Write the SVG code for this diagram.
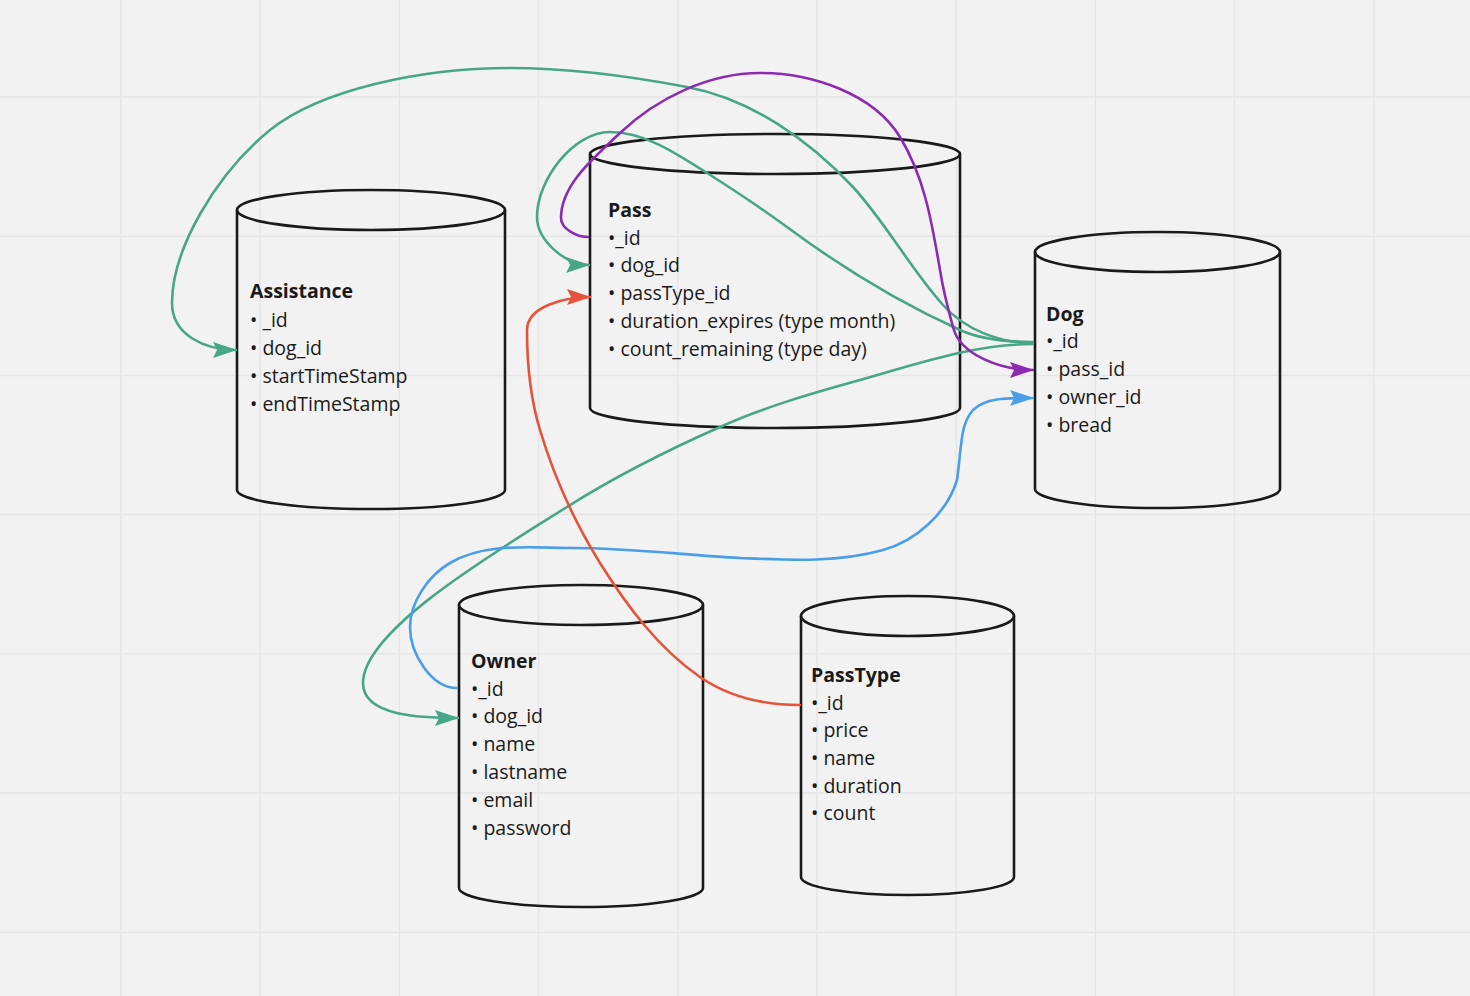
<svg xmlns="http://www.w3.org/2000/svg" width="1470" height="996" viewBox="0 0 1470 996">
<style>
.grid{stroke:#e5e5e5;stroke-width:1.5}
.cyl{fill:none;stroke:#1a1a1a;stroke-width:2.6;stroke-linejoin:round}
.t{font-family:"Open Sans","Noto Sans","Liberation Sans",sans-serif;font-size:19.5px;fill:#1a1a1a}
.h{font-weight:bold}
.c{fill:none;stroke-width:2.6;stroke-linecap:round}
.teal{stroke:#48a688}.purple{stroke:#8c2bb0}.orange{stroke:#e5533a}.blue{stroke:#4a9de8}
</style>
<defs>
<marker id="aTeal" viewBox="0 0 24 16" refX="23" refY="8" markerWidth="24" markerHeight="16" markerUnits="userSpaceOnUse" orient="auto"><path d="M0,0 L24,8 L0,16 L4,8 Z" fill="#48a688"/></marker>
<marker id="aPurple" viewBox="0 0 24 16" refX="23" refY="8" markerWidth="24" markerHeight="16" markerUnits="userSpaceOnUse" orient="auto"><path d="M0,0 L24,8 L0,16 L4,8 Z" fill="#8c2bb0"/></marker>
<marker id="aOrange" viewBox="0 0 24 16" refX="23" refY="8" markerWidth="24" markerHeight="16" markerUnits="userSpaceOnUse" orient="auto"><path d="M0,0 L24,8 L0,16 L4,8 Z" fill="#e5533a"/></marker>
<marker id="aBlue" viewBox="0 0 24 16" refX="23" refY="8" markerWidth="24" markerHeight="16" markerUnits="userSpaceOnUse" orient="auto"><path d="M0,0 L24,8 L0,16 L4,8 Z" fill="#4a9de8"/></marker>
</defs>
<rect width="1470" height="996" fill="#f2f2f2"/>
<g id="grid">
<path class="grid" d="M121,0V996M260.2,0V996M399.4,0V996M538.6,0V996M677.8,0V996M817,0V996M956.2,0V996M1095.4,0V996M1234.6,0V996M1373.8,0V996"/>
<path class="grid" d="M0,97H1470M0,236.2H1470M0,375.4H1470M0,514.6H1470M0,653.8H1470M0,793H1470M0,932.2H1470"/>
</g>
<g id="assistance">
<ellipse class="cyl" cx="371" cy="210" rx="134" ry="20"/>
<path class="cyl" d="M237,210 V490 A134,19 0 0 0 505,490 V210"/>
<text class="t h" x="250" y="298">Assistance</text>
<text class="t" x="250" y="327">• _id</text>
<text class="t" x="250" y="355">• dog_id</text>
<text class="t" x="250" y="383">• startTimeStamp</text>
<text class="t" x="250" y="411">• endTimeStamp</text>
</g>
<g id="pass">
<ellipse class="cyl" cx="775" cy="154" rx="185" ry="20"/>
<path class="cyl" d="M590,154 V408 A185,20 0 0 0 960,408 V154"/>
<text class="t h" x="608" y="217">Pass</text>
<text class="t" x="608" y="245">•_id</text>
<text class="t" x="608" y="272">• dog_id</text>
<text class="t" x="608" y="300">• passType_id</text>
<text class="t" x="608" y="328">• duration_expires (type month)</text>
<text class="t" x="608" y="356">• count_remaining (type day)</text>
</g>
<g id="dog">
<ellipse class="cyl" cx="1157.5" cy="252" rx="122.5" ry="20"/>
<path class="cyl" d="M1035,252 V489 A122.5,19 0 0 0 1280,489 V252"/>
<text class="t h" x="1046" y="321">Dog</text>
<text class="t" x="1046" y="348">•_id</text>
<text class="t" x="1046" y="376">• pass_id</text>
<text class="t" x="1046" y="404">• owner_id</text>
<text class="t" x="1046" y="432">• bread</text>
</g>
<g id="owner">
<ellipse class="cyl" cx="581" cy="605" rx="122" ry="20"/>
<path class="cyl" d="M459,605 V888 A122,19 0 0 0 703,888 V605"/>
<text class="t h" x="471" y="668">Owner</text>
<text class="t" x="471" y="696">•_id</text>
<text class="t" x="471" y="723">• dog_id</text>
<text class="t" x="471" y="751">• name</text>
<text class="t" x="471" y="779">• lastname</text>
<text class="t" x="471" y="807">• email</text>
<text class="t" x="471" y="835">• password</text>
</g>
<g id="passtype">
<ellipse class="cyl" cx="907.5" cy="616" rx="106.5" ry="20"/>
<path class="cyl" d="M801,616 V877 A106.5,18 0 0 0 1014,877 V616"/>
<text class="t h" x="811" y="682">PassType</text>
<text class="t" x="811" y="710">•_id</text>
<text class="t" x="811" y="737">• price</text>
<text class="t" x="811" y="765">• name</text>
<text class="t" x="811" y="793">• duration</text>
<text class="t" x="811" y="820">• count</text>
</g>
<g id="connectors">
<path class="c teal" marker-end="url(#aTeal)" d="M1033,343 C1000,343 965,330 943,305 C910,268 886,223 853,187 C809,140 751,99 687,87 C629,76 569,68 510,68 C420,68 320,90 270,130 C215,175 172,250 172,303 C172,335 205,350 236,350"/>
<path class="c teal" marker-end="url(#aTeal)" d="M1033,342 C1008,342 982,340 960,330 C900,303 841,267 787,227 C761,208 734,190 707,173 C677,154 645,132 610,132 C573,132 537,180 537,217 C537,240 565,265 589,265"/>
<path class="c teal" marker-end="url(#aTeal)" d="M1033,344 C974,344 917,364 860,380 C813,393 764,407 720,427 C668,450 616,476 567,507 C497,551 363,630 363,683 C363,717 424,718 458,718"/>
<path class="c purple" marker-end="url(#aPurple)" d="M588,237 C577,237 561,229 561,218 C561,184 595,157 620,133 C657,98 709,73 760,73 C811,73 873,93 900,137 C925,178 932,224 940,270 C943,289 948,309 953,327 C960,356 1003,370 1033,370"/>
<path class="c blue" marker-end="url(#aBlue)" d="M457,688 C431,688 410,653 410,627 C410,602 429,575 450,563 C485,542 532,548 573,548 C629,548 684,555 740,558 C788,560 837,563 883,550 C916,541 947,513 957,480 C962,444 960,425 973,410 C985,398 1005,398 1033,398"/>
<path class="c orange" marker-end="url(#aOrange)" d="M800,705 C765,705 729,697 700,677 C658,648 627,606 600,563 C574,521 554,477 540,430 C530,397 527,364 527,330 C527,306 566,297 590,297"/>
</g>
</svg>
